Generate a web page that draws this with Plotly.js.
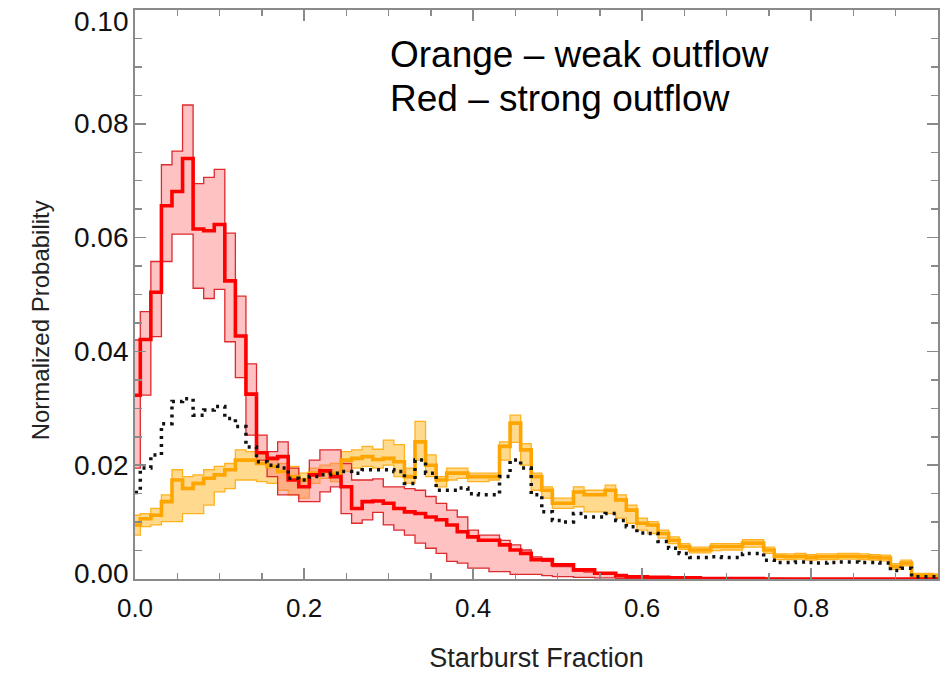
<!DOCTYPE html>
<html>
<head>
<meta charset="utf-8">
<script src="https://cdn.plot.ly/plotly-3.0.1.min.js"></script>
<style>html,body{margin:0;padding:0;background:#fff;}#chart{width:951px;height:673px;}</style>
</head>
<body>
<div id="chart"></div>
<script>
// Bin centers (starburst fraction)
const binCenters = [0.0000,0.0125,0.0250,0.0375,0.0500,0.0625,0.0750,0.0875,0.1000,0.1125,
0.1250,0.1375,0.1500,0.1625,0.1750,0.1875,0.2000,0.2125,0.2250,0.2375,
0.2500,0.2625,0.2750,0.2875,0.3000,0.3125,0.3250,0.3375,0.3500,0.3625,
0.3750,0.3875,0.4000,0.4125,0.4250,0.4375,0.4500,0.4625,0.4750,0.4875,
0.5000,0.5125,0.5250,0.5375,0.5500,0.5625,0.5750,0.5875,0.6000,0.6125,
0.6250,0.6375,0.6500,0.6625,0.6750,0.6875,0.7000,0.7125,0.7250,0.7375,
0.7500,0.7625,0.7750,0.7875,0.8000,0.8125,0.8250,0.8375,0.8500,0.8625,
0.8750,0.8875,0.9000,0.9125,0.9250,0.9375,0.9500];

// Red - strong outflow
const redMain = [0.0323,0.0421,0.0504,0.0656,0.0681,0.0739,0.0615,0.0612,0.0623,0.0524,
0.0427,0.0325,0.0222,0.0212,0.0215,0.0174,0.0162,0.0183,0.0190,0.0180,
0.0162,0.0124,0.0136,0.0137,0.0133,0.0124,0.0118,0.0115,0.0109,0.0104,
0.0095,0.0083,0.0074,0.0068,0.0068,0.0060,0.0051,0.0045,0.0034,0.0034,
0.0025,0.0025,0.0016,0.0016,0.0010,0.0010,0.0006,0.0004,0.0004,0.0003,
0.0003,0.0002,0.0002,0.0002,0.0001,0.0001,0.0001,0.0001,0.0001,0.0001,
0.0000,0.0000,0.0000,0.0000,0.0000,0.0000,0.0000,0.0000,0.0000,0.0000,
0.0000,0.0000,0.0000,0.0000,0.0000,0.0000,0.0000];
const redHigh = [0.0420,0.0470,0.0558,0.0728,0.0752,0.0833,0.0695,0.0706,0.0720,0.0608,
0.0497,0.0378,0.0253,0.0224,0.0241,0.0195,0.0174,0.0209,0.0227,0.0227,
0.0203,0.0174,0.0174,0.0176,0.0162,0.0162,0.0159,0.0156,0.0145,0.0133,
0.0121,0.0109,0.0086,0.0077,0.0077,0.0068,0.0060,0.0051,0.0039,0.0031,
0.0022,0.0022,0.0014,0.0012,0.0010,0.0008,0.0006,0.0005,0.0004,0.0004,
0.0003,0.0003,0.0002,0.0002,0.0002,0.0001,0.0001,0.0001,0.0001,0.0001,
0.0001,0.0001,0.0000,0.0000,0.0000,0.0000,0.0000,0.0000,0.0000,0.0000,
0.0000,0.0000,0.0000,0.0000,0.0000,0.0000,0.0000];
const redLow = [0.0195,0.0323,0.0426,0.0558,0.0606,0.0606,0.0511,0.0493,0.0509,0.0417,
0.0354,0.0253,0.0209,0.0180,0.0148,0.0148,0.0136,0.0136,0.0153,0.0162,
0.0115,0.0098,0.0104,0.0117,0.0095,0.0086,0.0077,0.0063,0.0054,0.0045,
0.0031,0.0028,0.0019,0.0019,0.0013,0.0013,0.0008,0.0008,0.0008,0.0006,
0.0004,0.0004,0.0003,0.0003,0.0002,0.0002,0.0001,0.0001,0.0001,0.0000,
0.0000,0.0000,0.0000,0.0000,0.0000,0.0000,0.0000,0.0000,0.0000,0.0000,
0.0000,0.0000,0.0000,0.0000,0.0000,0.0000,0.0000,0.0000,0.0000,0.0000,
0.0000,0.0000,0.0000,0.0000,0.0000,0.0000,0.0000];

// Orange - weak outflow
const orangeMain = [0.0095,0.0106,0.0112,0.0136,0.0174,0.0159,0.0168,0.0177,0.0183,0.0192,
0.0209,0.0209,0.0203,0.0198,0.0189,0.0180,0.0174,0.0186,0.0189,0.0186,
0.0209,0.0212,0.0215,0.0210,0.0212,0.0206,0.0180,0.0241,0.0200,0.0174,
0.0186,0.0186,0.0180,0.0180,0.0180,0.0233,0.0274,0.0227,0.0180,0.0156,
0.0133,0.0133,0.0153,0.0148,0.0148,0.0156,0.0139,0.0121,0.0098,0.0095,
0.0080,0.0068,0.0057,0.0051,0.0051,0.0057,0.0057,0.0057,0.0063,0.0063,
0.0051,0.0040,0.0039,0.0040,0.0038,0.0039,0.0039,0.0040,0.0040,0.0039,
0.0038,0.0037,0.0022,0.0028,0.0006,0.0006,0.0005];
const orangeHigh = [0.0112,0.0115,0.0124,0.0148,0.0192,0.0180,0.0183,0.0192,0.0198,0.0203,
0.0227,0.0224,0.0221,0.0209,0.0203,0.0198,0.0186,0.0195,0.0200,0.0203,
0.0224,0.0227,0.0233,0.0228,0.0244,0.0236,0.0195,0.0277,0.0218,0.0180,
0.0195,0.0195,0.0186,0.0186,0.0186,0.0241,0.0288,0.0238,0.0186,0.0162,
0.0142,0.0142,0.0162,0.0156,0.0156,0.0165,0.0148,0.0130,0.0107,0.0101,
0.0086,0.0074,0.0062,0.0056,0.0056,0.0062,0.0062,0.0062,0.0069,0.0069,
0.0056,0.0044,0.0044,0.0045,0.0043,0.0044,0.0044,0.0045,0.0045,0.0044,
0.0043,0.0042,0.0027,0.0033,0.0010,0.0010,0.0009];
const orangeLow = [0.0077,0.0092,0.0095,0.0101,0.0101,0.0115,0.0115,0.0130,0.0153,0.0159,
0.0174,0.0174,0.0171,0.0168,0.0156,0.0148,0.0142,0.0168,0.0177,0.0171,
0.0189,0.0195,0.0198,0.0195,0.0200,0.0180,0.0168,0.0209,0.0180,0.0162,
0.0174,0.0177,0.0171,0.0171,0.0174,0.0209,0.0240,0.0200,0.0156,0.0142,
0.0124,0.0124,0.0127,0.0118,0.0118,0.0115,0.0107,0.0098,0.0086,0.0080,
0.0072,0.0062,0.0052,0.0046,0.0046,0.0050,0.0051,0.0051,0.0056,0.0056,
0.0045,0.0034,0.0034,0.0035,0.0033,0.0034,0.0034,0.0035,0.0035,0.0034,
0.0033,0.0032,0.0017,0.0023,0.0002,0.0002,0.0002];

// Black dotted - full sample
const allSample = [0.0152,0.0195,0.0218,0.0273,0.0312,0.0317,0.0288,0.0297,0.0303,0.0282,
0.0268,0.0232,0.0206,0.0200,0.0195,0.0177,0.0174,0.0180,0.0183,0.0186,
0.0189,0.0186,0.0192,0.0192,0.0192,0.0189,0.0168,0.0209,0.0186,0.0156,
0.0156,0.0160,0.0150,0.0148,0.0148,0.0180,0.0209,0.0195,0.0148,0.0118,
0.0103,0.0100,0.0115,0.0109,0.0109,0.0115,0.0103,0.0092,0.0081,0.0080,
0.0066,0.0054,0.0045,0.0038,0.0038,0.0039,0.0038,0.0038,0.0045,0.0045,
0.0033,0.0029,0.0029,0.0030,0.0029,0.0028,0.0029,0.0030,0.0030,0.0029,
0.0029,0.0028,0.0015,0.0019,0.0004,0.0004,0.0004];

const xTickVals = [0.0, 0.2, 0.4, 0.6, 0.8];
const xTickText = ['0.0', '0.2', '0.4', '0.6', '0.8'];
const yTickVals = [0.00, 0.02, 0.04, 0.06, 0.08, 0.10];
const yTickText = ['0.00', '0.02', '0.04', '0.06', '0.08', '0.10'];

const FONT = 'Liberation Sans, Arial, Helvetica, sans-serif';
const RED = '#ff0000', RED_EDGE = '#dd2a2e', RED_FILL = 'rgba(255,120,120,0.45)';
const ORG = '#ffa500', ORG_EDGE = '#ffb21e', ORG_FILL = 'rgba(255,185,50,0.55)';

function step(y, color, width, extra) {
  return Object.assign({x: binCenters, y: y, type: 'scatter', mode: 'lines',
    line: {shape: 'hvh', color: color, width: width}, hoverinfo: 'skip', showlegend: false}, extra || {});
}

const traces = [
  step(orangeLow, ORG_EDGE, 1.3),
  step(orangeHigh, ORG_EDGE, 1.3, {fill: 'tonexty', fillcolor: ORG_FILL}),
  step(redLow, RED_EDGE, 1.3),
  step(redHigh, RED_EDGE, 1.3, {fill: 'tonexty', fillcolor: RED_FILL}),
  step(orangeMain, ORG, 3.6),
  step(redMain, RED, 3.6),
  step(allSample, '#111111', 3.5, {line: {shape: 'hvh', color: '#111111', width: 3.5, dash: '3px,5px'}})
];

const axisCommon = {
  showline: true, linecolor: '#8a8a8a', linewidth: 2, mirror: 'allticks',
  ticks: 'inside', tickcolor: '#8a8a8a', tickwidth: 1.5, ticklen: 11,
  showgrid: false, zeroline: false
};

// y tick labels as annotations placed on the y scale (end labels nudged inward like the original)
const yLabelShift = {'0.00': 6, '0.10': -11};
const yTickAnnotations = yTickVals.map((v, i) => ({
  xref: 'paper', yref: 'y', x: 0, y: v, xanchor: 'right', yanchor: 'middle', xshift: -4,
  yshift: yLabelShift[yTickText[i]] || 0, showarrow: false, text: yTickText[i],
  font: {family: FONT, color: '#111', size: 28}
}));

const layout = {
  width: 951, height: 673,
  margin: {l: 135, r: 13, t: 10, b: 94},
  paper_bgcolor: '#fff', plot_bgcolor: '#fff',
  font: {family: FONT, color: '#111'},
  xaxis: Object.assign({}, axisCommon, {
    range: [0, 0.95], tickvals: xTickVals, ticktext: xTickText,
    minor: {dtick: 0.05, ticks: 'inside', ticklen: 6, tickcolor: '#8a8a8a', tickwidth: 1.5, showgrid: false},
    ticklabelstandoff: 5,
    tickfont: {family: FONT, color: '#111', size: 26},
    title: {text: 'Starburst Fraction', standoff: 26, font: {family: FONT, size: 27, color: '#222'}}
  }),
  yaxis: Object.assign({}, axisCommon, {
    range: [0, 0.10], tickvals: yTickVals, showticklabels: false,
    minor: {dtick: 0.005, ticks: 'inside', ticklen: 7, tickcolor: '#8a8a8a', tickwidth: 1.5, showgrid: false}
  }),
  annotations: yTickAnnotations.concat([
    {xref: 'paper', yref: 'paper', x: 0.315, y: 0.921, xanchor: 'left', yanchor: 'middle', showarrow: false,
     text: 'Orange \u2013 weak outflow', font: {size: 37, color: '#000', family: FONT}},
    {xref: 'paper', yref: 'paper', x: 0.315, y: 0.844, xanchor: 'left', yanchor: 'middle', showarrow: false,
     text: 'Red \u2013 strong outflow', font: {size: 37, color: '#000', family: FONT}},
    {xref: 'paper', yref: 'paper', x: -0.118, y: 0.455, xanchor: 'center', yanchor: 'middle', showarrow: false,
     textangle: -90, text: 'Normalized Probability', font: {size: 24, color: '#222', family: FONT}}
  ])
};

Plotly.newPlot('chart', traces, layout, {displayModeBar: false, staticPlot: true});
</script>
</body>
</html>
